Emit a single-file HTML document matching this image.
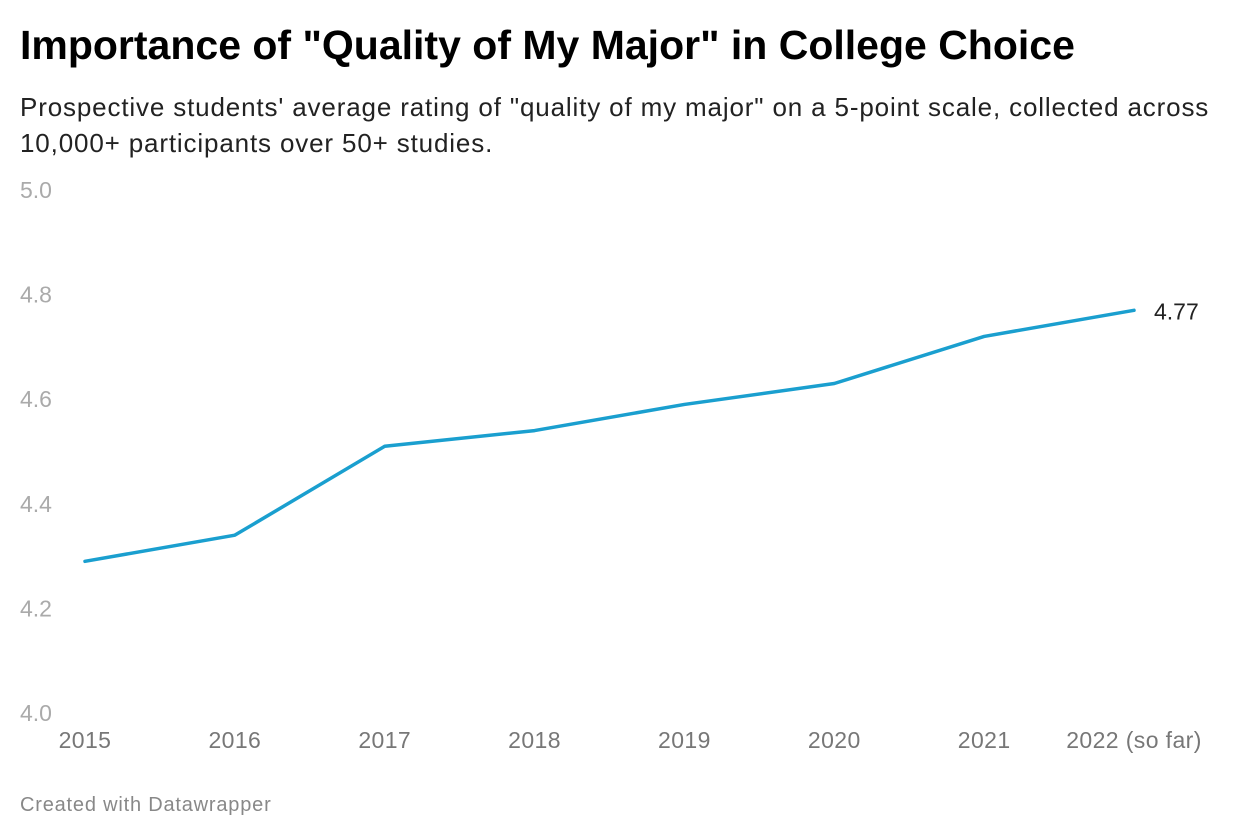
<!DOCTYPE html>
<html><head><meta charset="utf-8">
<style>
body{margin:0;background:#fff;font-family:"Liberation Sans",sans-serif;}
#wrap{position:relative;width:1240px;height:840px;overflow:hidden;}
h1{position:absolute;left:20px;top:24px;margin:0;font-size:41px;line-height:42px;font-weight:bold;color:#000;white-space:nowrap;}
.sub{position:absolute;left:20px;top:89px;margin:0;font-size:26px;line-height:36px;color:#222;width:1220px;letter-spacing:0.85px;white-space:nowrap;}
.foot{position:absolute;left:20px;top:794px;font-size:20px;letter-spacing:0.8px;color:#888;}
svg{position:absolute;left:0;top:0;}
</style></head><body>
<div id="wrap">
<h1>Importance of "Quality of My Major" in College Choice</h1>
<p class="sub">Prospective students' average rating of "quality of my major" on a 5-point scale, collected across<br>10,000+ participants over 50+ studies.</p>
<svg id="chart" width="1240" height="840"></svg>
<div class="foot">Created with Datawrapper</div>
</div>
<script>
const categories=["2015","2016","2017","2018","2019","2020","2021","2022 (so far)"];
const values=[4.29,4.34,4.51,4.54,4.59,4.63,4.72,4.77];
const yTicks=[4.0,4.2,4.4,4.6,4.8,5.0];
const yTickLabels=["4.0","4.2","4.4","4.6","4.8","5.0"];
const NS="http://www.w3.org/2000/svg";
const svg=document.getElementById('chart');
const yMin=4,yMax=5,yTop=190,yBot=713;
const xL=85,xR=1134;
function y(v){return yBot-(v-yMin)/(yMax-yMin)*(yBot-yTop);}
function x(i){return xL+i*(xR-xL)/(categories.length-1);}
function mk(t,a){const e=document.createElementNS(NS,t);for(const k in a)e.setAttribute(k,a[k]);svg.appendChild(e);return e;}
yTicks.forEach((v,i)=>{
 const t=mk('text',{x:20,y:y(v)+8,'font-size':23,fill:'#aaa','font-family':'Liberation Sans, sans-serif'});
 
 
 t.textContent=yTickLabels[i];
});
categories.forEach((c,i)=>{
 const t=mk('text',{x:x(i),y:748,'font-size':23,'letter-spacing':0.4,fill:'#777','text-anchor':'middle','font-family':'Liberation Sans, sans-serif'});
 
 
 t.textContent=c;
});
const p=mk('polyline',{points:values.map((v,i)=>x(i)+','+y(v)).join(' '),fill:'none',stroke:'#1a9fcf','stroke-width':3.5,'stroke-linejoin':'round','stroke-linecap':'round'});


const last=values.length-1;
const lab=mk('text',{x:x(last)+20,y:y(values[last])+9,'font-size':23,fill:'#222','font-family':'Liberation Sans, sans-serif'});


lab.textContent=values[last].toFixed(2);
</script>
</body></html>
